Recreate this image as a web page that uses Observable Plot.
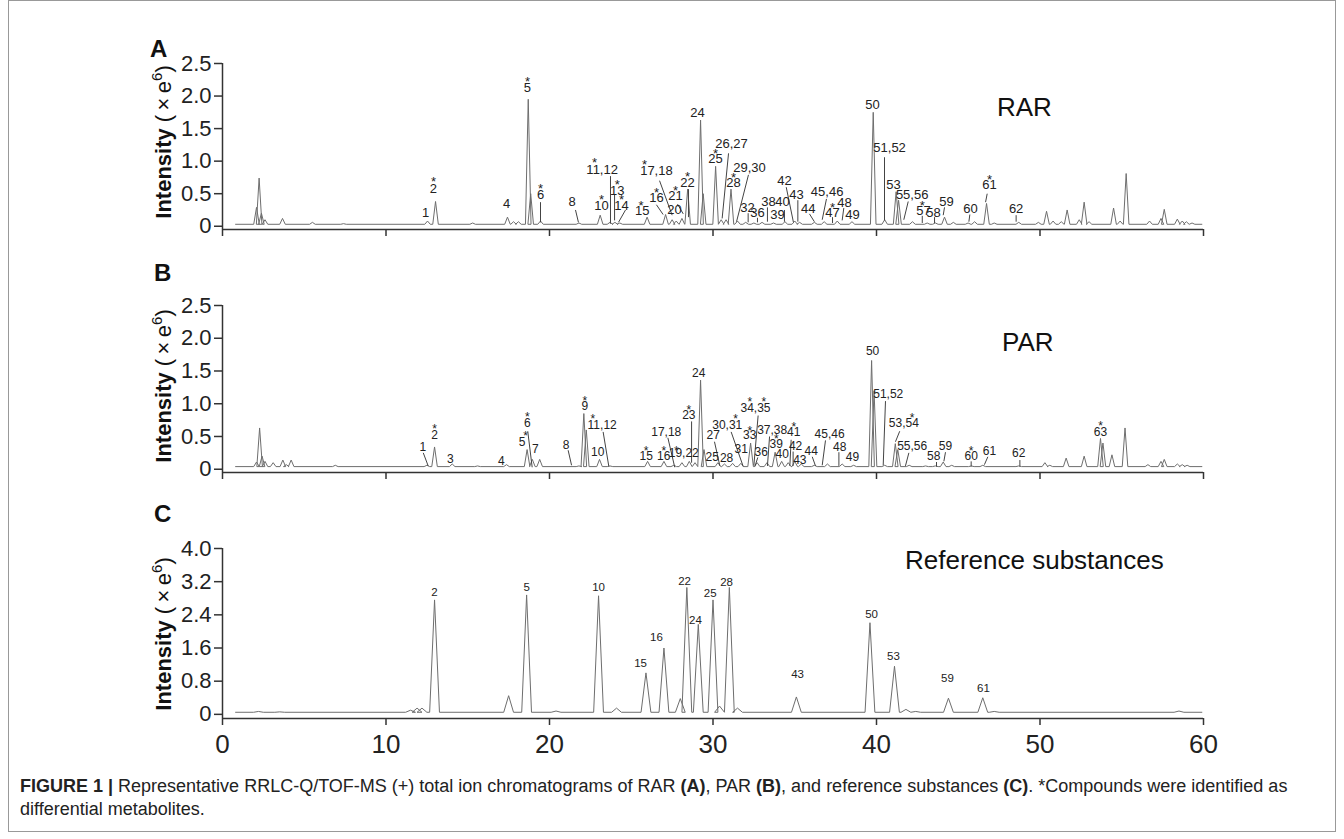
<!DOCTYPE html>
<html><head><meta charset="utf-8">
<script src="https://cdn.jsdelivr.net/npm/d3@7"></script>
<script src="https://cdn.jsdelivr.net/npm/@observablehq/plot@0.6"></script>
<style>
body{margin:0;background:#fff;}
#fig{position:relative;width:1344px;height:839px;overflow:hidden;font-family:"Liberation Sans",Arial,sans-serif;}
#fig > svg{position:absolute;left:0;}
</style></head><body><div id="fig"></div>
<script>
// ---------- tick values ----------
const xTicks = [0, 10, 20, 30, 40, 50, 60];
const yTicksAB = [0, 0.5, 1.0, 1.5, 2.0, 2.5];
const yTicksC = [0, 0.8, 1.6, 2.4, 3.2, 4.0];

// ---------- chromatogram peaks [retention time (min), intensity (x1e6)] ----------
const peaksA = [[2.08,0.29],[2.24,0.74],[2.38,0.2],[2.6,0.1],[3.67,0.12],[5.5,0.06],[7.4,0.04],[12.54,0.08],[13.03,0.38],[15.3,0.05],
 [17.43,0.14],[17.8,0.07],[18.1,0.07],[18.7,1.95],[18.85,0.5],[19.45,0.08],[21.8,0.05],[23.1,0.17],[23.7,0.06],[24.0,0.06],[24.3,0.05],
 [25.97,0.14],[27.1,0.18],[27.5,0.1],[27.75,0.08],[28.1,0.12],[28.45,0.57],[29.24,1.63],[29.4,0.5],[30.16,0.92],[30.5,0.1],[30.8,0.1],
 [31.1,0.57],[31.5,0.08],[32.0,0.06],[32.5,0.05],[33.0,0.06],[33.7,0.05],[34.4,0.07],[35.0,0.08],[35.3,0.06],[36.2,0.06],[36.8,0.07],
 [37.6,0.08],[38.5,0.07],[39.8,1.75],[40.5,0.1],[41.2,0.53],[41.35,0.4],[42.2,0.07],[43.1,0.05],[43.6,0.05],[44.16,0.14],[44.7,0.06],
 [45.6,0.05],[46.0,0.07],[46.73,0.35],[47.2,0.05],[48.7,0.06],[49.9,0.06],[50.4,0.23],[50.8,0.08],[51.3,0.07],[51.66,0.25],[52.4,0.1],
 [52.7,0.37],[53.0,0.07],[54.5,0.28],[54.9,0.08],[55.27,0.81],[56.7,0.08],[57.4,0.12],[57.6,0.26],[58.4,0.11],[58.7,0.08],[58.95,0.07],[59.3,0.05]];
const peaksB = [[2.08,0.11],[2.27,0.63],[2.42,0.2],[2.6,0.12],[3.1,0.1],[3.69,0.14],[3.9,0.07],[4.2,0.14],[6.9,0.06],[12.5,0.06],[12.97,0.34],
 [14.05,0.08],[15.6,0.05],[17.37,0.07],[18.63,0.3],[18.95,0.15],[19.4,0.15],[21.8,0.05],[22.1,0.85],[22.25,0.6],[23.06,0.15],[23.7,0.05],
 [26.0,0.12],[27.0,0.12],[27.6,0.06],[28.1,0.1],[28.55,0.12],[28.9,0.1],[29.24,1.36],[29.45,0.3],[30.3,0.1],[30.7,0.08],[31.2,0.09],
 [31.7,0.09],[32.3,0.4],[32.7,0.1],[33.3,0.1],[33.8,0.26],[34.2,0.12],[34.6,0.1],[35.0,0.12],[35.4,0.08],[36.2,0.06],[37.0,0.08],
 [37.9,0.08],[38.6,0.06],[39.7,1.66],[39.85,1.2],[40.5,0.06],[41.15,0.39],[41.3,0.3],[42.0,0.06],[43.0,0.05],[43.6,0.05],[44.08,0.11],
 [44.6,0.06],[45.8,0.05],[46.5,0.06],[48.7,0.05],[50.3,0.1],[50.6,0.06],[51.6,0.17],[52.7,0.2],[53.7,0.47],[53.85,0.4],[54.4,0.22],
 [55.2,0.63],[56.6,0.07],[57.4,0.12],[57.6,0.15],[58.4,0.08],[58.7,0.07],[59.0,0.06]];
const peaksC = [[2.2,0.07],[3.5,0.06],[11.5,0.1],[11.9,0.15],[12.2,0.15],[12.97,2.76],[17.5,0.45],[18.6,2.88],[20.4,0.08],[23.0,2.86],
 [24.1,0.15],[25.9,1.0],[27.0,1.6],[28.0,0.38],[28.4,3.06],[29.1,2.17],[30.0,2.76],[30.4,0.2],[31.0,3.06],[31.5,0.15],[35.1,0.42],
 [39.6,2.21],[41.1,1.16],[41.8,0.12],[42.4,0.07],[44.4,0.39],[46.5,0.4],[47.2,0.07],[58.5,0.08]];
const baselines = {A: 0.03, B: 0.04, C: 0.05};

// ---------- peak annotations [label, time, intensity] ----------
const labelsA = [["1",12.42,0.2],["2",12.9,0.57],["4",17.37,0.35],["5",18.65,2.13],["6",19.45,0.49],["8",21.39,0.37],["10",23.18,0.32],
 ["11,12",23.22,0.87],["13",24.14,0.55],["14",24.4,0.32],["15",25.67,0.24],["16",26.54,0.43],["17,18",26.54,0.85],["20",27.65,0.25],
 ["21",27.71,0.46],["22",28.44,0.67],["24",29.05,1.74],["25",30.15,1.04],["26,27",31.13,1.27],["28",31.25,0.66],["29,30",32.23,0.9],
 ["32",32.11,0.28],["36",32.72,0.21],["38",33.39,0.38],["39",33.94,0.18],["40",34.25,0.38],["42",34.37,0.7],["43",35.11,0.49],
 ["44",35.82,0.26],["45,46",36.98,0.53],["47",37.31,0.21],["48",38.04,0.36],["49",38.53,0.18],["50",39.76,1.87],["51,52",40.8,1.21],
 ["53",41.04,0.64],["55,56",42.18,0.49],["57",42.87,0.24],["58",43.49,0.21],["59",44.28,0.38],["60",45.75,0.26],["61",46.91,0.63],["62",48.54,0.26]];
const starsA = [[12.9,0.74],[18.65,2.28],[19.45,0.63],[23.18,0.46],[22.75,1.03],[24.14,0.69],[24.4,0.47],[25.6,0.37],[26.54,0.58],
 [25.81,1.0],[27.71,0.6],[28.44,0.82],[30.15,1.18],[31.25,0.8],[37.31,0.35],[42.8,0.37],[46.91,0.78]];
const leadersA = [[19.45,0.37,19.45,0.06],[21.59,0.25,21.77,0.06],[23.73,0.77,23.73,0.04],[23.98,0.48,23.98,0.09],[24.65,0.25,24.22,0.06],
 [26.54,0.33,26.95,0.18],[26.73,0.7,27.5,0.17],[27.83,0.34,28.18,0.19],[28.5,0.57,28.5,0.14],[30.95,1.12,30.56,0.12],[32.17,0.79,31.44,0.07],
 [32.15,0.2,32.15,0.06],[32.72,0.13,32.72,0.06],[33.33,0.29,33.33,0.07],[34.37,0.25,34.37,0.07],[34.48,0.6,34.92,0.06],[35.19,0.4,35.19,0.07],
 [35.9,0.19,36.2,0.07],[36.94,0.42,36.68,0.1],[37.31,0.14,37.31,0.05],[38.0,0.28,37.9,0.09],[40.49,1.06,40.49,0.09],[41.94,0.38,41.67,0.1],
 [42.8,0.16,42.8,0.05],[43.55,0.14,43.55,0.05],[44.16,0.29,44.08,0.17],[45.71,0.18,45.65,0.07],[46.77,0.5,46.67,0.37],[48.54,0.17,48.54,0.07]];

const labelsB = [["1",12.25,0.34],["2",12.97,0.52],["3",13.94,0.15],["4",17.05,0.13],["5",18.33,0.42],["6",18.64,0.7],["7",19.14,0.3],
 ["8",21.02,0.37],["9",22.16,0.96],["10",22.95,0.26],["11,12",23.22,0.68],["15",25.91,0.2],["16",26.99,0.2],["17,18",27.14,0.56],
 ["19,22",28.21,0.24],["23",28.52,0.82],["24",29.13,1.47],["25",29.95,0.18],["27",30.01,0.52],["28",30.83,0.17],["30,31",30.87,0.68],
 ["31",31.73,0.31],["33",32.25,0.52],["34,35",32.6,0.93],["36",32.95,0.26],["37,38",33.62,0.59],["39",33.87,0.39],["40",34.23,0.23],
 ["41",34.94,0.57],["42",35.05,0.35],["43",35.31,0.14],["44",36.01,0.27],["45,46",37.13,0.54],["48",37.75,0.34],["49",38.53,0.19],
 ["50",39.76,1.8],["51,52",40.72,1.15],["53,54",41.67,0.7],["55,56",42.18,0.35],["58",43.5,0.2],["59",44.22,0.35],["60",45.79,0.2],
 ["61",46.91,0.28],["62",48.7,0.24],["63",53.7,0.56]];
const starsB = [[12.97,0.68],[18.53,0.57],[18.64,0.85],[22.16,1.1],[22.65,0.82],[25.91,0.34],[26.99,0.34],[27.75,0.34],[28.52,0.96],
 [31.38,0.82],[32.25,0.65],[32.25,1.08],[33.11,1.08],[33.87,0.52],[34.94,0.71],[42.18,0.84],[45.79,0.34],[53.7,0.72]];
const leadersB = [[12.28,0.25,12.58,0.05],[18.67,0.58,18.94,0.03],[21.14,0.29,21.35,0.06],[23.28,0.57,23.63,0.04],[27.24,0.48,27.66,0.03],
 [28.69,0.73,28.69,0.1],[30.09,0.42,30.42,0.05],[31.11,0.57,31.85,0.04],[32.76,0.82,32.5,0.06],[32.74,0.18,32.56,0.04],[33.46,0.5,33.33,0.05],
 [34.78,0.45,34.7,0.05],[34.9,0.27,34.9,0.05],[36.07,0.19,36.27,0.05],[36.88,0.44,36.68,0.06],[37.7,0.26,37.7,0.05],[40.55,1.04,40.41,0.06],
 [41.42,0.58,41.16,0.42],[41.98,0.25,41.77,0.05],[43.67,0.11,43.67,0.04],[44.22,0.26,44.12,0.12],[45.79,0.12,45.79,0.04],[46.81,0.19,46.6,0.07],
 [48.77,0.14,48.77,0.04]];

const labelsC = [["2",12.97,2.94],["5",18.6,3.06],["10",23.0,3.06],["15",25.57,1.24],["16",26.54,1.85],["22",28.26,3.22],["24",28.93,2.28],
 ["25",29.83,2.93],["28",30.83,3.18],["43",35.17,0.97],["50",39.7,2.42],["53",41.04,1.4],["59",44.34,0.87],["61",46.54,0.63]];

const panelNames = ["RAR", "PAR", "Reference substances"];
const panelLetters = ["A", "B", "C"];

// ---------- helpers ----------
const FONT = "Liberation Sans, Arial, sans-serif";
function trace(peaks, base, w) {
  const pts = [[0.8, base]];
  for (const [t, h] of [...peaks].sort((a, b) => a[0] - b[0])) {
    pts.push([t - w, base], [t, h], [t + w, base]);
  }
  pts.push([59.9, base]);
  return pts;
}

function panel(o) {
  const line = trace(o.peaks, o.base, o.w);
  const p = Plot.plot({
    width: 1344, height: o.height,
    marginLeft: 222, marginRight: 141, marginTop: o.mt, marginBottom: o.mb,
    style: {background: "transparent", fontFamily: FONT, fontSize: "22px", color: "#222", overflow: "visible"},
    x: {domain: [0, 60], ticks: xTicks, tickSize: 7, tickPadding: 9,
        tickFormat: o.xLabels ? (d => String(d)) : (() => ""), label: null},
    y: {domain: o.yDomain, ticks: o.yTicks, tickSize: 8, tickPadding: 3,
        tickFormat: d => d === 0 ? "0" : d.toFixed(1), label: null},
    marks: [
      Plot.line(line, {x: d => d[0], y: d => d[1], stroke: "#6e6e6e", strokeWidth: 1}),
      Plot.link(o.leaders, {x1: d => d[0], y1: d => d[1], x2: d => d[2], y2: d => d[3], stroke: "#444", strokeWidth: 1}),
      Plot.text(o.labels, {x: d => d[1], y: d => d[2], text: d => d[0], fontSize: o.fs, fill: "#222"}),
      Plot.text(o.stars, {x: d => d[0], y: d => d[1], text: () => "*", fontSize: o.fs, dy: 4, fill: "#222"}),
      Plot.ruleX([0], {y1: o.yDomain[0], y2: o.yDomain[1], stroke: "#333", strokeWidth: 1.5}),
      Plot.ruleY([o.yDomain[0]], {x1: 0, x2: 60, stroke: "#333", strokeWidth: 1.5})
    ]
  });
  p.style.top = o.top + "px";
  d3.select(p).selectAll('[aria-label^="x-axis"] text').style("font-size", o.xfs + "px");
  d3.select(p).selectAll('[aria-label^="x-axis"] line, [aria-label^="y-axis"] line, [aria-label^="x-axis"] path, [aria-label^="y-axis"] path')
    .attr("stroke", "#333").attr("stroke-width", 1.5);
  return p;
}

const fig = document.getElementById("fig");

// background overlay: frame, letters, panel names, y labels, caption
const W = 1344, H = 839;
const ov = d3.select(fig).append("svg").attr("width", W).attr("height", H)
  .style("top", "0px").attr("font-family", FONT);
ov.append("rect").attr("x", 8.5).attr("y", 0.5).attr("width", 1327).attr("height", 831)
  .attr("fill", "none").attr("stroke", "#999").attr("stroke-width", 1);

const letterPos = [[150, 57], [154, 281], [154, 522]];
panelLetters.forEach((L, i) => ov.append("text").attr("x", letterPos[i][0]).attr("y", letterPos[i][1])
  .attr("font-size", 24).attr("font-weight", "bold").attr("fill", "#111").text(L));
const namePos = [[997, 116], [1002, 351], [905, 569]];
panelNames.forEach((n, i) => ov.append("text").attr("x", namePos[i][0]).attr("y", namePos[i][1])
  .attr("font-size", 26).attr("fill", "#111").text(n));

function yLabel(cy) {
  const t = ov.append("text").attr("transform", `translate(171,${cy}) rotate(-90)`)
    .attr("text-anchor", "middle").attr("font-size", 22).attr("fill", "#111");
  t.append("tspan").attr("font-weight", "bold").text("Intensity");
  t.append("tspan").text(" (\u2009×\u2009e");
  t.append("tspan").attr("font-size", 15).attr("dy", -9).text("6");
  t.append("tspan").attr("dy", 9).text(")");
}
yLabel(142); yLabel(386); yLabel(634);

const cap = ov.append("text").attr("x", 20).attr("y", 792).attr("font-size", 18).attr("fill", "#222");
cap.append("tspan").attr("font-weight", "bold").text("FIGURE 1 | ");
cap.append("tspan").text("Representative RRLC-Q/TOF-MS (+) total ion chromatograms of RAR ");
cap.append("tspan").attr("font-weight", "bold").text("(A)");
cap.append("tspan").text(", PAR ");
cap.append("tspan").attr("font-weight", "bold").text("(B)");
cap.append("tspan").text(", and reference substances ");
cap.append("tspan").attr("font-weight", "bold").text("(C)");
cap.append("tspan").text(". *Compounds were identified as");
ov.append("text").attr("x", 20).attr("y", 815).attr("font-size", 18).attr("fill", "#222").text("differential metabolites.");

fig.appendChild(panel({top: 40, height: 210, mt: 23, mb: 21, yDomain: [-0.05, 2.5], yTicks: yTicksAB,
  peaks: peaksA, base: baselines.A, w: 0.17, labels: labelsA, stars: starsA, leaders: leadersA, fs: 13, xLabels: false, xfs: 22}));
fig.appendChild(panel({top: 280, height: 210, mt: 25, mb: 18, yDomain: [-0.05, 2.5], yTicks: yTicksAB,
  peaks: peaksB, base: baselines.B, w: 0.17, labels: labelsB, stars: starsB, leaders: leadersB, fs: 12, xLabels: false, xfs: 22}));
fig.appendChild(panel({top: 525, height: 245, mt: 23, mb: 52, yDomain: [-0.1, 4.0], yTicks: yTicksC,
  peaks: peaksC, base: baselines.C, w: 0.3, labels: labelsC, stars: [], leaders: [], fs: 11.5, xLabels: true, xfs: 26}));
</script></body></html>
